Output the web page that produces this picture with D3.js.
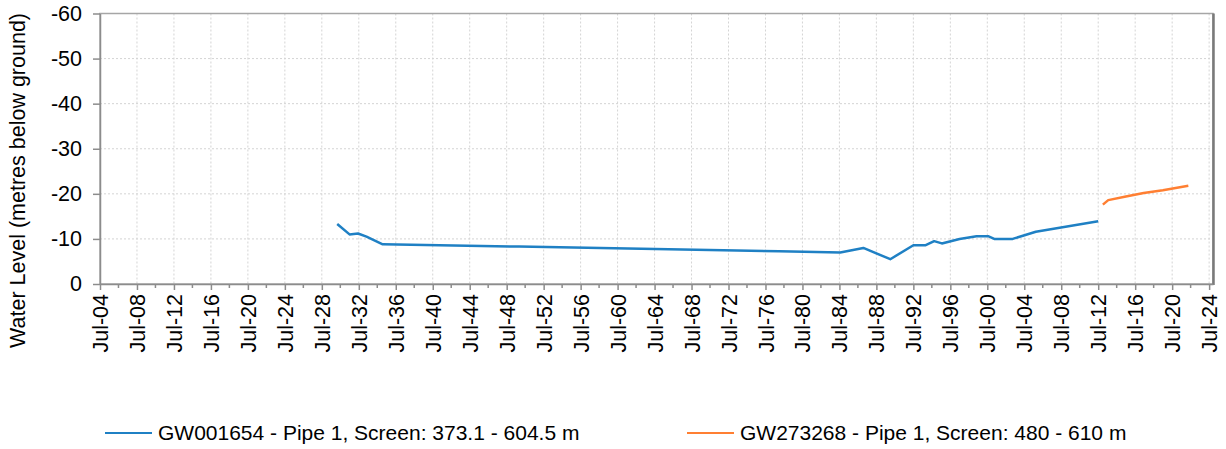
<!DOCTYPE html>
<html>
<head>
<meta charset="utf-8">
<script src="https://cdn.jsdelivr.net/npm/d3@7"></script>
<style>
	body { margin: 0; background: #fff; font-family: "Liberation Sans", Arial, sans-serif; }
	#chart { width: 1226px; height: 449px; }
	.grid line { stroke: #d4d4d4; stroke-dasharray: 2,2; }
	.axis text { font-size: 21.5px; fill: #000; }
	.axis path, .axis line { stroke: #8c8c8c; stroke-width: 1.5; }
</style>
</head>
<body>
<div id="chart"></div>
<script>
// Series 1 - GW001654
var blueDates = ["1930-03","1931-07","1932-06","1933-05","1935-02","1949-11","1978-01",
	"1984-08","1987-02","1990-01","1992-07","1993-11","1994-10","1995-08","1997-07",
	"1999-05","2000-08","2001-04","2003-04","2005-10","2012-07"];
var blueLevels = [-13.3,-11.0,-11.2,-10.5,-8.8,-8.3,-7.25,
	-7.0,-8.0,-5.5,-8.6,-8.6,-9.5,-9.0,-10.0,
	-10.6,-10.6,-10.0,-10.0,-11.6,-13.9];

// Series 2 - GW273268
var orangeDates = ["2013-01","2013-08","2015-07","2017-06","2019-07","2022-04"];
var orangeLevels = [-17.6,-18.6,-19.4,-20.2,-20.8,-21.8];

var seriesNames = [
	"GW001654 - Pipe 1, Screen: 373.1 - 604.5 m",
	"GW273268 - Pipe 1, Screen: 480 - 610 m"
];
var seriesColors = ["#1f80c4", "#ff7f32"];

var yTicks = [0, -10, -20, -30, -40, -50, -60];
var tickYears = d3.range(1904, 2025, 4);

var parseMonth = d3.timeParse("%Y-%m");

var Chart = function(config){
	this.targetId = null;
	this.margin = {top: 13.5, right: 13, bottom: 165, left: 100};
	Object.keys(config).forEach(key => this[key] = config[key]);

	this.setupSVG();
	this.setupScales();
	this.drawGrid();
	this.drawAxes();
	this.plot();
	this.drawLegend();
}

Chart.prototype.setupSVG = function(){
	this.width = 1226;
	this.height = 449;
	this.chartWidth = this.width - this.margin.left - this.margin.right;
	this.chartHeight = this.height - this.margin.top - this.margin.bottom;

	this.svg = d3.select("#" + this.targetId)
		.append("svg")
		.attr("width", this.width)
		.attr("height", this.height);

	this.g = this.svg.append("g")
		.attr("transform", `translate(${this.margin.left}, ${this.margin.top})`);
}

Chart.prototype.setupScales = function(){
	this.x = d3.scaleTime()
		.domain([new Date(1904, 6, 1), new Date(2024, 11, 1)])
		.range([0, this.chartWidth]);
	this.y = d3.scaleLinear()
		.domain([0, -60])
		.range([this.chartHeight, 0]);
}

Chart.prototype.drawGrid = function(){
	let grid = this.g.append("g").attr("class", "grid");

	grid.selectAll(".hgrid")
		.data(yTicks.slice(1, -1))
		.enter().append("line")
		.attr("x1", 0)
		.attr("x2", this.chartWidth)
		.attr("y1", d => this.y(d))
		.attr("y2", d => this.y(d));

	grid.selectAll(".vgrid")
		.data(tickYears.slice(1))
		.enter().append("line")
		.attr("x1", d => this.x(new Date(d, 6, 1)))
		.attr("x2", d => this.x(new Date(d, 6, 1)))
		.attr("y1", 0)
		.attr("y2", this.chartHeight);
}

Chart.prototype.drawAxes = function(){
	// frame
	this.g.append("rect")
		.attr("width", this.chartWidth)
		.attr("height", this.chartHeight)
		.attr("fill", "none")
		.attr("stroke", "#a6a6a6")
		.attr("stroke-width", 1.5);
	this.g.append("line")
		.attr("x1", this.chartWidth + 0.5).attr("x2", this.chartWidth + 0.5)
		.attr("y1", 0).attr("y2", this.chartHeight + 1)
		.attr("stroke", "#7a7a7a")
		.attr("stroke-width", 2.5);

	// minor ticks on x
	this.g.append("g")
		.attr("class", "axis")
		.selectAll("line")
		.data(tickYears.slice(0, -1).map(d => d + 2))
		.enter().append("line")
		.attr("x1", d => this.x(new Date(d, 6, 1)))
		.attr("x2", d => this.x(new Date(d, 6, 1)))
		.attr("y1", this.chartHeight)
		.attr("y2", this.chartHeight + 4);

	this.xAxis = d3.axisBottom(this.x)
		.tickValues(tickYears.map(d => new Date(d, 6, 1)))
		.tickFormat(d3.timeFormat("Jul-%y"))
		.tickSize(6)
		.tickSizeOuter(0);
	this.xAxisG = this.g.append("g")
		.attr("class", "axis")
		.attr("transform", `translate(0, ${this.chartHeight})`)
		.call(this.xAxis);
	this.xAxisG.selectAll("text")
		.attr("transform", "rotate(-90)")
		.attr("x", -10)
		.attr("y", 0)
		.attr("dy", "0.35em")
		.style("text-anchor", "end");

	this.yAxis = d3.axisLeft(this.y)
		.tickValues(yTicks)
		.tickFormat(d => String(d))
		.tickSize(7)
		.tickSizeOuter(0);
	this.yAxisG = this.g.append("g")
		.attr("class", "axis")
		.call(this.yAxis);
	this.yAxisG.selectAll("text").attr("x", -18);

	this.svg.append("text")
		.attr("transform", `translate(25, ${this.margin.top + 167}) rotate(-90)`)
		.style("text-anchor", "middle")
		.style("font-size", "21.5px")
		.text("Water Level (metres below ground)");
}

Chart.prototype.plot = function(){
	let line = d3.line()
		.x(d => this.x(d.date))
		.y(d => this.y(d.level));

	let series = [
		blueDates.map((d, i) => ({date: parseMonth(d), level: blueLevels[i]})),
		orangeDates.map((d, i) => ({date: parseMonth(d), level: orangeLevels[i]}))
	];

	this.g.selectAll(".series")
		.data(series)
		.enter().append("path")
		.attr("class", "series")
		.attr("d", d => line(d))
		.attr("fill", "none")
		.attr("stroke", (d, i) => seriesColors[i])
		.attr("stroke-width", 2.5)
		.attr("stroke-linejoin", "round");
}

Chart.prototype.drawLegend = function(){
	let xs = [105, 687];
	let items = this.svg.selectAll(".legend")
		.data(seriesNames)
		.enter().append("g")
		.attr("class", "legend")
		.attr("transform", (d, i) => `translate(${xs[i]}, 433)`);

	items.append("line")
		.attr("x1", 0).attr("x2", 47)
		.attr("stroke", (d, i) => seriesColors[i])
		.attr("stroke-width", 2);

	items.append("text")
		.attr("x", 53)
		.attr("dy", "0.35em")
		.style("font-size", "21px")
		.text(d => d);
}

new Chart({targetId: "chart"});
</script>
</body>
</html>
